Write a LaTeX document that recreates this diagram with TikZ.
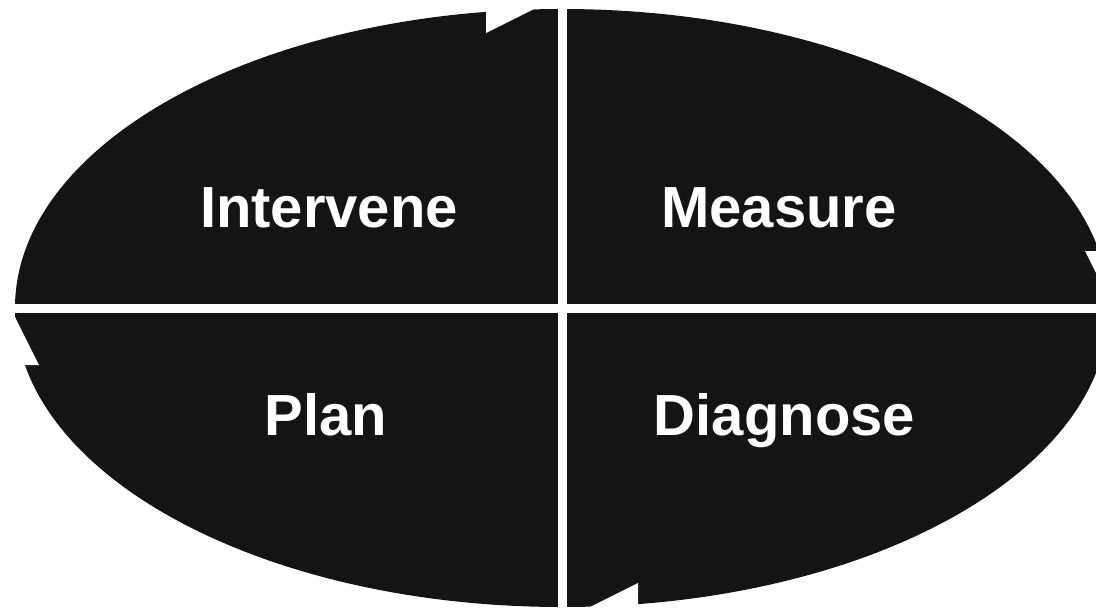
\documentclass[tikz,border=0pt]{standalone}
\usepackage{fontspec}
\setmainfont{Liberation Sans}
\definecolor{segfill}{RGB}{20,20,20}
\tikzset{
  seglabel/.style={text=white, font=\fontsize{58}{68}\selectfont\bfseries, anchor=base, inner sep=0pt},
  cut/.style={fill=white, draw=none}
}
\begin{document}
\begin{tikzpicture}[x=1pt, y=-1pt]
\useasboundingbox (0,0) rectangle (1096,608);
\clip (0,0) rectangle (1096,608);
% the ellipse body
\fill[segfill] (562,308) ellipse [x radius=547, y radius=299];
% arrow notches
\fill[cut] (486,33) -- (542,5) -- (486,-5) -- cycle;
\fill[cut] (1085,251) -- (1125,251) -- (1125,331) -- cycle;
\fill[cut] (638,583) -- (582,611) -- (638,620) -- cycle;
\fill[cut] (39,365) -- (-5,365) -- (-5,277) -- cycle;
% gaps between the segments
\fill[cut] (557.7,-5) rectangle (567,615);
\fill[cut] (-5,304) rectangle (1105,312.7);
% labels
\node[seglabel] (intervene) at (329,227) {Intervene};
\node[seglabel] (measure) at (779,227) {Measure};
\node[seglabel] (plan) at (326,435) {Plan};
\node[seglabel] (diagnose) at (784.5,435) {Diagnose};
\end{tikzpicture}
\end{document}
